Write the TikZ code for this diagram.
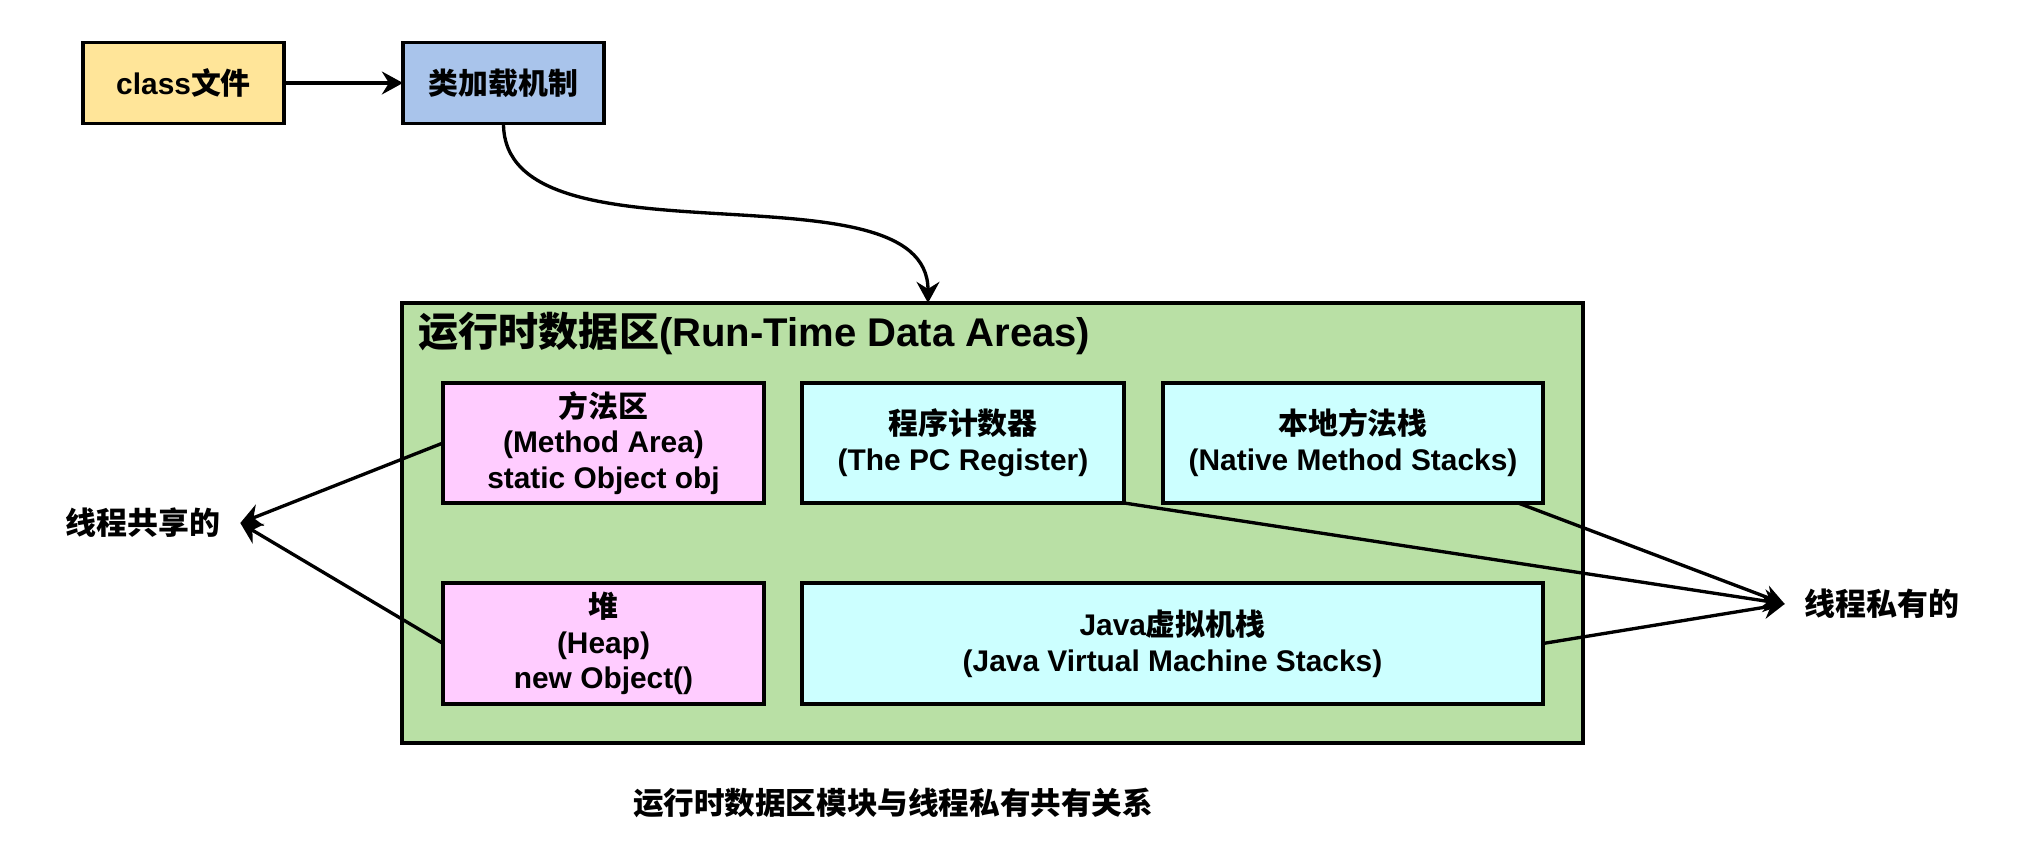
\documentclass[tikz,border=0pt]{standalone}
\usepackage{fontspec}
\setmainfont{Liberation Sans}
\newfontfamily\cjk{Noto Sans CJK SC}
\usetikzlibrary{arrows.meta}

\definecolor{classyellow}{HTML}{FFE599}
\definecolor{loadblue}{HTML}{A9C4EB}
\definecolor{areagreen}{HTML}{B9E0A5}
\definecolor{sharedpink}{HTML}{FFCCFF}
\definecolor{privcyan}{HTML}{CCFFFF}

\begin{document}
\begin{tikzpicture}[
    box/.style={draw, line width=1.1pt, inner sep=0pt, outer sep=0pt, align=center,
        font=\fontsize{8.5}{10.2}\selectfont\bfseries},
    side/.style={inner ysep=0pt, inner xsep=0.2cm, outer sep=0pt,
        font=\fontsize{8.8}{10.5}\selectfont\bfseries},
    link/.style={line width=0.95pt, -{Stealth[length=6pt, width=6.5pt, inset=2pt]}},
]
    \useasboundingbox (0,0) rectangle (20.24,8.64);

    % Loading of the class file
    \node[box, fill=classyellow, minimum width=2.01cm, minimum height=0.81cm] (class) at (1.835,7.81) {class{\cjk 文件}};
    \node[box, fill=loadblue, minimum width=2.01cm, minimum height=0.81cm] (load) at (5.035,7.81) {\cjk 类加载机制};
    \draw[link] (class) -- (load);

    % Run-time data areas
    \node[box, fill=areagreen, minimum width=11.81cm, minimum height=4.40cm] (area) at (9.925,3.41) {};
    \node[anchor=west, inner sep=0pt, font=\fontsize{11.4}{13}\selectfont\bfseries] (title) at (4.18,5.30) {{\cjk 运行时数据区}(Run-Time Data Areas)};
    \draw[link] (load.south) .. controls +(0,-1.5) and +(0,1.45) .. ([xshift=-0.645cm]area.north);

    % Areas shared by the threads
    \node[box, fill=sharedpink, minimum width=3.21cm, minimum height=1.20cm] (method) at (6.035,4.21) {{\cjk 方法区}\\(Method Area)\\static Object obj};
    \node[box, fill=sharedpink, minimum width=3.21cm, minimum height=1.21cm] (heap) at (6.035,2.205) {{\cjk 堆}\\(Heap)\\new Object()};

    % Areas private to each thread
    \node[box, fill=privcyan, minimum width=3.22cm, minimum height=1.20cm] (pc) at (9.63,4.21) {{\cjk 程序计数器}\\(The PC Register)};
    \node[box, fill=privcyan, minimum width=3.80cm, minimum height=1.20cm] (native) at (13.53,4.21) {{\cjk 本地方法栈}\\(Native Method Stacks)};
    \node[box, fill=privcyan, minimum width=7.41cm, minimum height=1.21cm] (jvm) at (11.725,2.205) {Java{\cjk 虚拟机栈}\\(Java Virtual Machine Stacks)};

    % Labels on the sides
    \node[side] (shared) at (1.43,3.41) {\cjk 线程共享的};
    \node[side] (private) at (18.82,2.60) {\cjk 线程私有的};

    \draw[link] (method.west) -- (shared.east);
    \draw[link] (heap.west) -- (shared.east);
    \draw[link] (pc.south east) -- (private.west);
    \draw[link] ([xshift=-0.25cm]native.south east) -- (private.west);
    \draw[link] (jvm.east) -- (private.west);

    % Caption
    \node[font=\fontsize{8.7}{10.5}\selectfont\bfseries] (caption) at (8.93,0.61) {\cjk 运行时数据区模块与线程私有共有关系};
\end{tikzpicture}
\end{document}
